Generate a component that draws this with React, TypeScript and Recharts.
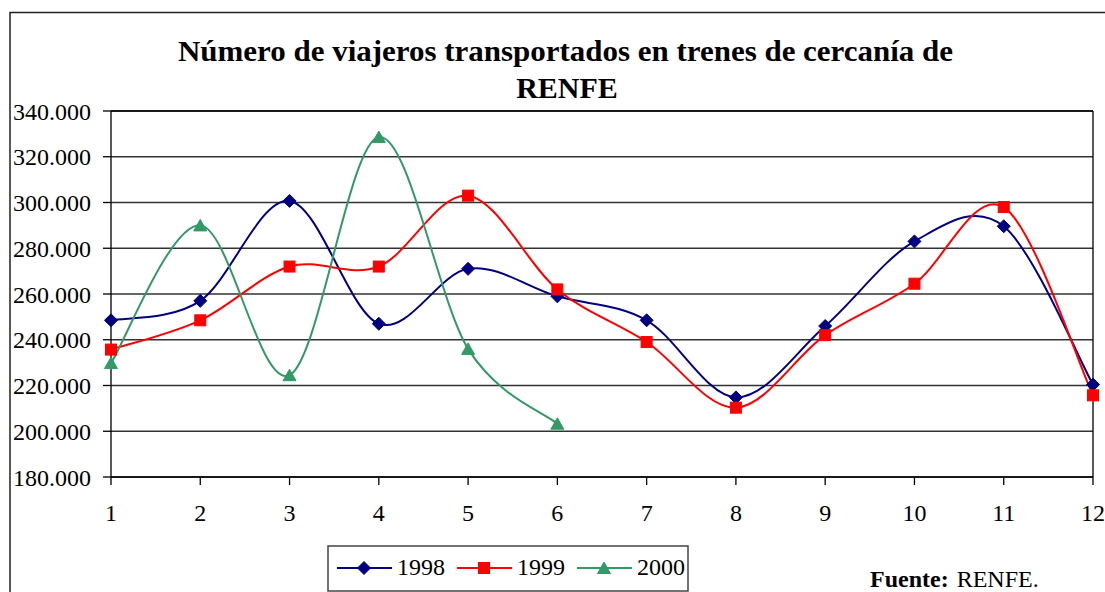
import React from 'react';
import { LineChart, Line, XAxis, YAxis, CartesianGrid, ReferenceLine } from 'recharts';

const months = [1, 2, 3, 4, 5, 6, 7, 8, 9, 10, 11, 12];
const s1998 = [248500, 257000, 300700, 247000, 271000, 259000, 248500, 214800, 246000, 283000, 289600, 220400];
const s1999 = [235700, 248500, 272000, 272000, 303000, 262000, 239000, 210300, 242000, 264500, 298000, 215700];
const s2000 = [229800, 290000, 224500, 328600, 236000, 203300];
const yTicks = [180000, 200000, 220000, 240000, 260000, 280000, 300000, 320000, 340000];
const seriesNames = ['1998', '1999', '2000'];
const titleLines = ['Número de viajeros transportados en trenes de cercanía de', 'RENFE'];

const data = months.map((m, i) => ({
  month: m,
  y1998: s1998[i],
  y1999: s1999[i],
  y2000: i < s2000.length ? s2000[i] : null,
}));

const FONT = "'Times New Roman', 'Liberation Serif', serif";
const C1998 = '#000080';
const C1999 = '#FF0000';
const C2000 = '#339966';

const fmt = (v: number) => {
  const s = String(Math.round(v));
  return s.replace(/\B(?=(\d{3})+(?!\d))/g, '.');
};

// Excel-like smoothing (uniform Catmull-Rom as cubic Bezier)
const catmullRom = (context: any) => {
  let pts: number[][] = [];
  return {
    areaStart() {},
    areaEnd() {},
    lineStart() {
      pts = [];
    },
    point(x: number, y: number) {
      pts.push([+x, +y]);
    },
    lineEnd() {
      if (!pts.length) return;
      context.moveTo(pts[0][0], pts[0][1]);
      for (let i = 0; i < pts.length - 1; i++) {
        const p0 = pts[i - 1] || pts[i];
        const p1 = pts[i];
        const p2 = pts[i + 1];
        const p3 = pts[i + 2] || p2;
        const c1x = p1[0] + (p2[0] - p0[0]) / 6;
        const c1y = p1[1] + (p2[1] - p0[1]) / 6;
        const c2x = p2[0] - (p3[0] - p1[0]) / 6;
        const c2y = p2[1] - (p3[1] - p1[1]) / 6;
        context.bezierCurveTo(c1x, c1y, c2x, c2y, p2[0], p2[1]);
      }
    },
  };
};

const Diamond = (cx: number, cy: number, key?: any) => (
  <path key={key} d={`M${cx},${cy - 6.5}L${cx + 6.5},${cy}L${cx},${cy + 6.5}L${cx - 6.5},${cy}Z`} fill={C1998} stroke={C1998} />
);
const Square = (cx: number, cy: number, key?: any) => (
  <rect key={key} x={cx - 5.5} y={cy - 5.5} width={11} height={11} fill={C1999} stroke={C1999} />
);
const Triangle = (cx: number, cy: number, key?: any) => (
  <path key={key} d={`M${cx},${cy - 6}L${cx + 6.5},${cy + 5.5}L${cx - 6.5},${cy + 5.5}Z`} fill={C2000} stroke={C2000} />
);

const dotFn = (shape: (cx: number, cy: number, key?: any) => React.ReactElement, name: string) => (props: any) => {
  const { cx, cy, index } = props;
  if (cx == null || cy == null || isNaN(cx) || isNaN(cy)) return <g key={`${name}-${index}`} />;
  return shape(cx, cy, `${name}-${index}`);
};

export default function App() {
  const legendItems = [
    { name: seriesNames[0], color: C1998, shape: Diamond, x: 337 },
    { name: seriesNames[1], color: C1999, shape: Square, x: 457 },
    { name: seriesNames[2], color: C2000, shape: Triangle, x: 577 },
  ];
  return (
    <div style={{ position: 'absolute', left: 0, top: 0, width: 1105, height: 592, background: '#fff', overflow: 'hidden' }}>
      <LineChart width={1105} height={592} data={data} margin={{ top: 111, right: 12, bottom: 85, left: 11 }}>
        <CartesianGrid horizontal vertical={false} stroke="#333" strokeWidth={1.3} />
        <XAxis
          dataKey="month"
          type="number"
          domain={[1, 12]}
          ticks={months}
          height={30}
          tickSize={8}
          tickMargin={19}
          axisLine={{ stroke: '#000', strokeWidth: 1.3 }}
          tickLine={{ stroke: '#000', strokeWidth: 1.3 }}
          tick={{ fontSize: 24, fill: '#000', fontFamily: FONT }}
          interval={0}
        />
        <YAxis
          type="number"
          domain={[180000, 340000]}
          ticks={yTicks}
          width={100}
          tickSize={8}
          tickMargin={12}
          tickFormatter={fmt}
          axisLine={{ stroke: '#000', strokeWidth: 1.3 }}
          tickLine={{ stroke: '#000', strokeWidth: 1.3 }}
          tick={{ fontSize: 24, fill: '#000', fontFamily: FONT }}
          interval={0}
        />
        <ReferenceLine x={12} stroke="#000" strokeWidth={1.3} />
        <ReferenceLine y={340000} stroke="#000" strokeWidth={1.3} />
        <Line dataKey="y1998" name="1998" type={catmullRom as any} stroke={C1998} strokeWidth={2} dot={dotFn(Diamond, 'a')} isAnimationActive={false} />
        <Line dataKey="y1999" name="1999" type={catmullRom as any} stroke={C1999} strokeWidth={2} dot={dotFn(Square, 'b')} isAnimationActive={false} />
        <Line dataKey="y2000" name="2000" type={catmullRom as any} stroke={C2000} strokeWidth={2} dot={dotFn(Triangle, 'c')} isAnimationActive={false} connectNulls={false} />
      </LineChart>
      <svg width={1105} height={592} style={{ position: 'absolute', left: 0, top: 0, pointerEvents: 'none' }}>
        <rect x={10} y={12.5} width={1200} height={700} fill="none" stroke="#222" strokeWidth={1.5} />
        <text x={565.5} y={61} textAnchor="middle" fontFamily={FONT} fontWeight="bold" fontSize={30} fill="#000" textLength={775} lengthAdjust="spacingAndGlyphs">
          {titleLines[0]}
        </text>
        <text x={567} y={98} textAnchor="middle" fontFamily={FONT} fontWeight="bold" fontSize={30} fill="#000">
          {titleLines[1]}
        </text>
        <rect x={328} y={546} width={360} height={45} fill="#fff" stroke="#444" strokeWidth={1.5} />
        {legendItems.map((it) => (
          <g key={it.name}>
            <line x1={it.x} x2={it.x + 55} y1={568} y2={568} stroke={it.color} strokeWidth={2} />
            {it.shape(it.x + 27, 568)}
            <text x={it.x + 60} y={575} fontFamily={FONT} fontSize={24} fill="#000">
              {it.name}
            </text>
          </g>
        ))}
        <text x={870} y={587} fontFamily={FONT} fontSize={24} fill="#000">
          <tspan fontWeight="bold">Fuente:</tspan>
          <tspan dx={8}>RENFE.</tspan>
        </text>
      </svg>
    </div>
  );
}
